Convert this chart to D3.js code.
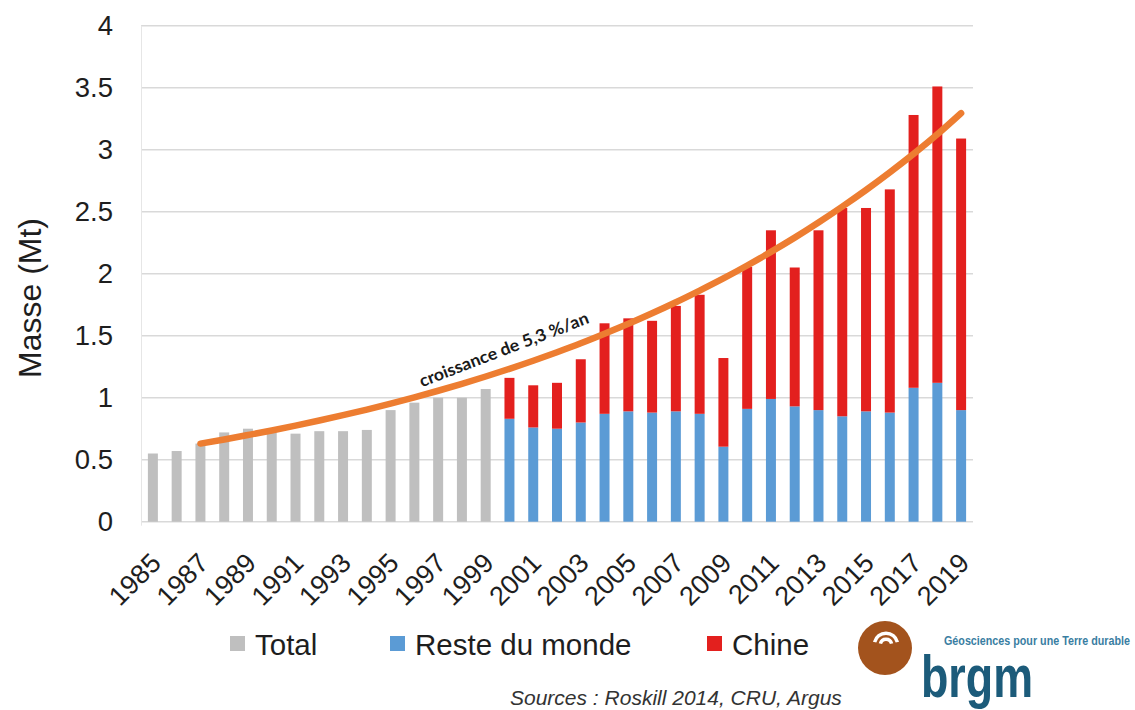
<!DOCTYPE html>
<html><head><meta charset="utf-8">
<script src="https://cdn.jsdelivr.net/npm/d3@7"></script>
<style>body{margin:0;background:#fff}svg{display:block}</style>
</head><body><svg id="c" width="1135" height="710"></svg>
<script>
// ---- data ----
const years = ["1985","1986","1987","1988","1989","1990","1991","1992","1993","1994","1995","1996","1997","1998","1999",
  "2000","2001","2002","2003","2004","2005","2006","2007","2008","2009","2010","2011","2012","2013","2014","2015","2016","2017","2018","2019"];
const totalYears = ["1985","1986","1987","1988","1989","1990","1991","1992","1993","1994","1995","1996","1997","1998","1999"];
const totalValues = [0.55,0.57,0.63,0.72,0.75,0.72,0.71,0.73,0.73,0.74,0.90,0.96,1.00,1.00,1.07];
const splitYears = ["2000","2001","2002","2003","2004","2005","2006","2007","2008","2009","2010","2011","2012","2013","2014","2015","2016","2017","2018","2019"];
const resteValues = [0.83,0.76,0.75,0.80,0.87,0.89,0.88,0.89,0.87,0.605,0.91,0.99,0.93,0.90,0.85,0.89,0.88,1.08,1.12,0.90];
const chineValues = [0.33,0.34,0.37,0.51,0.73,0.75,0.74,0.85,0.96,0.715,1.145,1.36,1.12,1.45,1.68,1.64,1.80,2.20,2.39,2.19];
const trendYears = ["1987","1988","1989","1990","1991","1992","1993","1994","1995","1996","1997","1998","1999","2000","2001","2002","2003",
  "2004","2005","2006","2007","2008","2009","2010","2011","2012","2013","2014","2015","2016","2017","2018","2019"];
const trendValues = [0.630,0.663,0.699,0.736,0.775,0.816,0.859,0.904,0.952,1.003,1.056,1.112,1.171,1.233,1.298,1.367,1.439,
  1.516,1.596,1.681,1.770,1.864,1.962,2.066,2.176,2.291,2.413,2.541,2.675,2.817,2.966,3.124,3.295];
const yTicks = [0,0.5,1,1.5,2,2.5,3,3.5,4];
const xTickLabels = ["1985","1987","1989","1991","1993","1995","1997","1999","2001","2003","2005","2007","2009","2011","2013","2015","2017","2019"];
const legendLabels = ["Total","Reste du monde","Chine"];
const yTitle = "Masse (Mt)";
const trendLabel = "croissance de 5,3 %/an";
const sourceText = "Sources : Roskill 2014, CRU, Argus";

// ---- styles ----
const C = {grey:"#BFBFBF", blue:"#5B9BD5", red:"#E3201E", orange:"#ED7D31", grid:"#D9D9D9", text:"#1e1e1e"};
const FONT = "'Liberation Sans', Arial, sans-serif";

const svg = d3.select("#c");
const x = d3.scaleBand().domain(years).range([141, 973]).paddingInner(0.58).paddingOuter(0.29);
const y = d3.scaleLinear().domain([0, 4]).range([521.7, 25.7]);
const bw = x.bandwidth();

// gridlines
svg.append("g").selectAll("line").data(yTicks).join("line")
  .attr("x1", 141).attr("x2", 973)
  .attr("y1", d => y(d)).attr("y2", d => y(d))
  .attr("stroke", C.grid).attr("stroke-width", 1.5);
// y axis line (faint)
svg.append("line").attr("x1",141.5).attr("x2",141.5).attr("y1",y(4)).attr("y2",y(0)+4)
  .attr("stroke", "#e6e6e6").attr("stroke-width",1);

// y axis labels
const yAxis = d3.axisLeft(y).tickValues(yTicks).tickSize(0).tickPadding(28).tickFormat(d => String(d));
const yg = svg.append("g").attr("transform","translate(141,0)").call(yAxis);
yg.select(".domain").remove();
yg.selectAll("text").attr("font-family", FONT).attr("font-size", 27.5).attr("fill", C.text);

// y title
svg.append("text").attr("transform","translate(41,298) rotate(-90)")
  .attr("text-anchor","middle").attr("font-family",FONT).attr("font-size",32).attr("fill",C.text).text(yTitle);

// bars
svg.append("g").selectAll("rect").data(totalYears.map((k,i)=>({k,v:totalValues[i]}))).join("rect")
  .attr("x", d => x(d.k)).attr("width", bw)
  .attr("y", d => y(d.v)).attr("height", d => y(0) - y(d.v)).attr("fill", C.grey);
const split = splitYears.map((k,i)=>({k, r:resteValues[i], c:chineValues[i]}));
svg.append("g").selectAll("rect").data(split).join("rect")
  .attr("x", d => x(d.k)).attr("width", bw)
  .attr("y", d => y(d.r)).attr("height", d => y(0) - y(d.r)).attr("fill", C.blue);
svg.append("g").selectAll("rect").data(split).join("rect")
  .attr("x", d => x(d.k)).attr("width", bw)
  .attr("y", d => y(d.r + d.c)).attr("height", d => y(d.r) - y(d.r + d.c)).attr("fill", C.red);

// x labels
svg.append("g").selectAll("text").data(xTickLabels).join("text")
  .attr("transform", d => `translate(${x(d) + bw/2 + 3},558) rotate(-45)`)
  .attr("text-anchor","end").attr("dy","0.35em")
  .attr("font-family",FONT).attr("font-size",27).attr("fill",C.text).text(d => d);

// trend curve
const line = d3.line().x(d => x(d.k) + bw/2).y(d => y(d.v)).curve(d3.curveNatural);
svg.append("path").datum(trendYears.map((k,i)=>({k,v:trendValues[i]})))
  .attr("d", line).attr("fill","none").attr("stroke",C.orange).attr("stroke-width",6.5).attr("stroke-linecap","round");

svg.append("text").attr("transform","translate(506,355) rotate(-21)")
  .attr("text-anchor","middle").attr("font-family","Lato, 'Open Sans', sans-serif").attr("font-weight","bold")
  .attr("font-size",17).attr("textLength",180).attr("lengthAdjust","spacingAndGlyphs")
  .attr("fill","#1a1a1a").text(trendLabel);

// legend
const legX = [230, 390, 707];
const legColors = [C.grey, C.blue, C.red];
const lg = svg.append("g");
legendLabels.forEach((t,i) => {
  lg.append("rect").attr("x", legX[i]).attr("y", 636).attr("width",15).attr("height",15).attr("fill", legColors[i]);
  lg.append("text").attr("x", legX[i] + 25).attr("y", 655).attr("font-family",FONT).attr("font-size",29.5)
    .attr("fill",C.text).text(t);
});

// source
svg.append("text").attr("x", 510).attr("y", 705).attr("font-family",FONT).attr("font-style","italic")
  .attr("font-size",21).attr("fill","#333").text(sourceText);

// logo
const logo = svg.append("g");
logo.append("circle").attr("cx",885).attr("cy",648).attr("r",27).attr("fill","#A3531D");
const arc = d3.arc();
[[4,7.5],[10,13.5]].forEach(([ri,ro]) => {
  logo.append("path").attr("transform","translate(886,645)")
    .attr("d", arc({innerRadius:ri, outerRadius:ro, startAngle:-Math.PI*0.42, endAngle:Math.PI*0.42}))
    .attr("fill","#fff");
});
logo.append("text").attr("x",921).attr("y",697).attr("font-family","'Liberation Sans Narrow', 'Liberation Sans', sans-serif")
  .attr("font-weight","bold").attr("font-size",60).attr("textLength",112).attr("lengthAdjust","spacingAndGlyphs")
  .attr("fill","#1C5B7A").text("brgm");
logo.append("text").attr("x",944).attr("y",645).attr("font-family","'Liberation Sans Narrow', 'Liberation Sans', sans-serif")
  .attr("font-weight","bold").attr("font-size",12).attr("textLength",186).attr("lengthAdjust","spacingAndGlyphs")
  .attr("fill","#3A7EA2").text("Géosciences pour une Terre durable");
</script></body></html>
